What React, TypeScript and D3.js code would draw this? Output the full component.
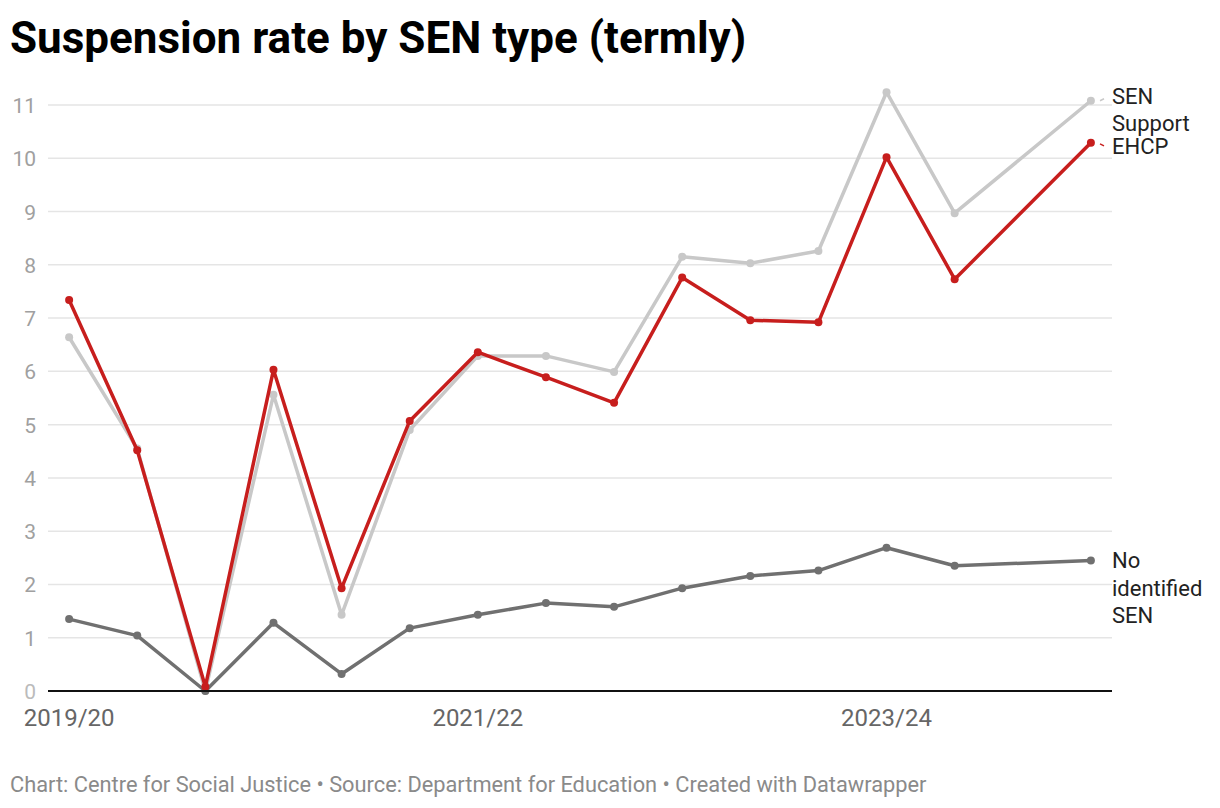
import React, { useRef, useEffect } from 'react';
import * as d3 from 'd3';

const terms = [
  '2019/20 Autumn', '2019/20 Spring', '2019/20 Summer',
  '2020/21 Autumn', '2020/21 Spring', '2020/21 Summer',
  '2021/22 Autumn', '2021/22 Spring', '2021/22 Summer',
  '2022/23 Autumn', '2022/23 Spring', '2022/23 Summer',
  '2023/24 Autumn', '2023/24 Spring', '2023/24 Summer',
  '2024/25 Autumn'
];
const xTickTerms = ['2019/20 Autumn', '2021/22 Autumn', '2023/24 Autumn'];
const yTicks = [0, 1, 2, 3, 4, 5, 6, 7, 8, 9, 10, 11];

// null = no value published for that term
const senSupport = [6.64, 4.55, 0, 5.56, 1.43, 4.9, 6.29, 6.29, 5.99, 8.15, 8.03, 8.26, 11.24, 8.97, null, 11.08];
const ehcp = [7.34, 4.52, 0.08, 6.03, 1.93, 5.07, 6.36, 5.89, 5.41, 7.76, 6.96, 6.92, 10.02, 7.73, null, 10.29];
const noSen = [1.35, 1.04, 0, 1.28, 0.32, 1.18, 1.43, 1.65, 1.58, 1.93, 2.16, 2.26, 2.69, 2.35, null, 2.45];

const series = [
  { name: 'SEN Support', lines: ['SEN', 'Support'], values: senSupport, color: '#c8c8c8', labelDy: -4 },
  { name: 'No identified SEN', lines: ['No', 'identified', 'SEN'], values: noSen, color: '#707070', labelDy: 0 },
  { name: 'EHCP', lines: ['EHCP'], values: ehcp, color: '#c71e1d', labelDy: 4 }
];

export default function App(): JSX.Element {
  const divRef = useRef<HTMLDivElement>(null);
  useEffect(() => {
    const divEle = divRef.current;
    if (divEle == null) {
      return;
    }
    document.body.style.margin = '0';
    d3.select(divEle).selectAll('*').remove();

    const width = 1220;
    const height = 808;
    const plot = { left: 48, right: 1112, top: 105, bottom: 691 };
    const font = 'Roboto, sans-serif';

    const svg = d3
      .select(divEle)
      .append('svg')
      .attr('width', width)
      .attr('height', height)
      .style('display', 'block')
      .style('font-family', font);

    const x = d3.scalePoint<string>().domain(terms).range([plot.left, plot.right]).padding(0.31);
    const y = d3.scaleLinear().domain([0, 11]).range([plot.bottom, plot.top]);

    // title
    svg
      .append('text')
      .attr('x', 10)
      .attr('y', 53)
      .attr('font-size', 44)
      .attr('font-weight', 700)
      .attr('fill', '#000')
      .text('Suspension rate by SEN type (termly)');

    // gridlines + y labels
    const grid = svg.append('g');
    grid
      .selectAll('line')
      .data(yTicks.filter((d) => d !== 0))
      .join('line')
      .attr('x1', plot.left)
      .attr('x2', plot.right)
      .attr('y1', (d) => y(d))
      .attr('y2', (d) => y(d))
      .attr('stroke', '#e5e5e5')
      .attr('stroke-width', 1.5);
    grid
      .selectAll('text')
      .data(yTicks)
      .join('text')
      .attr('x', 36)
      .attr('y', (d) => y(d) + 8)
      .attr('text-anchor', 'end')
      .attr('font-size', 21)
      .attr('fill', (d) => (d === 0 ? '#bbbbbb' : '#a0a0a0'))
      .text((d) => d);

    // x labels
    svg
      .append('g')
      .selectAll('text')
      .data(xTickTerms)
      .join('text')
      .attr('x', (d) => x(d) as number)
      .attr('y', 726)
      .attr('text-anchor', 'middle')
      .attr('font-size', 24)
      .attr('fill', '#666')
      .text((d) => d.split(' ')[0]);

    const line = d3
      .line<{ t: string; v: number }>()
      .x((d) => x(d.t) as number)
      .y((d) => y(d.v));

    series.forEach((s) => {
      const pts = terms
        .map((t, i) => ({ t, v: s.values[i] }))
        .filter((d) => d.v != null) as { t: string; v: number }[];
      const g = svg.append('g');
      g.append('path')
        .attr('d', line(pts))
        .attr('fill', 'none')
        .attr('stroke', s.color)
        .attr('stroke-width', 3.5)
        .attr('stroke-linejoin', 'round');
      g.selectAll('circle')
        .data(pts)
        .join('circle')
        .attr('cx', (d) => x(d.t) as number)
        .attr('cy', (d) => y(d.v))
        .attr('r', 4)
        .attr('fill', s.color);
    });

    // baseline
    svg
      .append('line')
      .attr('x1', plot.left)
      .attr('x2', plot.right)
      .attr('y1', y(0))
      .attr('y2', y(0))
      .attr('stroke', '#111')
      .attr('stroke-width', 2);

    // direct labels
    const labels = svg.append('g');
    series.forEach((s) => {
      const last = s.values[s.values.length - 1] as number;
      const ly = y(last);
      const lineH = 27.5;
      if (s.name !== 'No identified SEN') {
        labels
          .append('line')
          .attr('x1', plot.right - 12)
          .attr('x2', plot.right - 8)
          .attr('y1', ly + (s.labelDy < 0 ? 0 : 1))
          .attr('y2', ly + (s.labelDy < 0 ? -2 : 3))
          .attr('stroke', s.color)
          .attr('stroke-width', 1.5);
      }
      const top = s.name === 'SEN Support' ? ly + 3 : s.name === 'EHCP' ? ly + 11 : ly + 8;
      const txt = labels
        .append('text')
        .attr('x', plot.right)
        .attr('font-size', 22)
        .attr('fill', '#222');
      s.lines.forEach((l, i) => {
        txt
          .append('tspan')
          .attr('x', plot.right)
          .attr('y', top + i * lineH)
          .text(l);
      });
    });

    // footer
    svg
      .append('text')
      .attr('x', 10)
      .attr('y', 792)
      .attr('font-size', 21.8)
      .attr('fill', '#8a8a8a')
      .text('Chart: Centre for Social Justice • Source: Department for Education • Created with Datawrapper');
  }, []);
  return <div ref={divRef} style={{ width: 1220, height: 808 }} />;
}
